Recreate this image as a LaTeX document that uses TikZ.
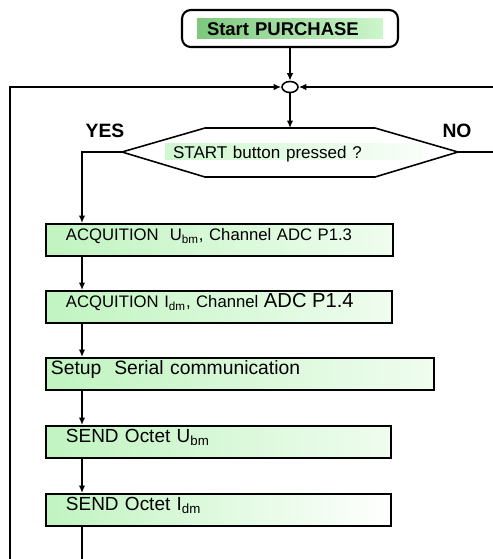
\documentclass[tikz,border=0pt]{standalone}
\usepackage{fontspec}
\setmainfont{Liberation Sans}
\usetikzlibrary{shapes.geometric,arrows.meta}

\newcommand{\fsz}[1]{\fontsize{#1}{#1}\selectfont}
\definecolor{boxgreen}{RGB}{192,244,192}
\definecolor{startgreen}{RGB}{125,200,125}

\tikzset{
  flow/.style={line width=0.9pt},
  box/.style={draw, line width=1.1pt, anchor=north west, align=left,
    minimum height=0.64cm, inner ysep=0pt, inner xsep=0.4cm,
    text height=0.25cm, text depth=0.24cm,
    left color=boxgreen, right color=boxgreen!25!white},
  starttext/.style={left color=startgreen, right color=boxgreen!80!white,
    text width=3.32cm, inner xsep=0.2cm, inner ysep=0pt, align=left,
    text height=0.335cm, text depth=0.065cm, font=\fsz{10.5}\bfseries},
  asktext/.style={left color=boxgreen!75!white, right color=boxgreen!10!white,
    text width=4.84cm, inner xsep=0.16cm, inner ysep=0pt, align=left,
    text height=0.3cm, text depth=0.02cm, font=\fsz{9.7}},
  answer/.style={font=\fsz{11}\bfseries},
}

\begin{document}
\begin{tikzpicture}[x=0.02cm, y=-0.02cm, >={Latex[length=1.5mm,width=1.3mm]}]
\useasboundingbox (0,0) rectangle (493,559);

% start
\node[draw, rounded corners=5pt, line width=1.2pt, minimum width=4.32cm, minimum height=0.74cm] (start) at (290,28.5) {};
\node[starttext] (starttxt) at (start) {Start PURCHASE};

\node[draw, ellipse, flow, minimum width=0.32cm, minimum height=0.22cm, inner sep=0pt] (merge) at (290,87) {};

% decision
\coordinate (dl) at (122,152);
\coordinate (dr) at (458,152);
\coordinate (dtop) at (290,128);
\draw[flow] (dl) -- (205,128) -- (375,128) -- (dr) -- (375,177) -- (205,177) -- cycle;
\node[asktext] (ask) at (294,151) {START button pressed ?};
\node[answer] (yeslbl) at (105,131) {YES};
\node[answer] (nolbl) at (457,131) {NO};

% process boxes
\node[box, text width=6.14cm, font=\fsz{9.5}] (b1) at (45,223) {ACQUITION~~U\textsubscript{bm}, Channel ADC P1.3};
\node[box, text width=6.12cm, font=\fsz{9.5}] (b2) at (45,290) {ACQUITION I\textsubscript{dm}, Channel {\fsz{11.5}ADC P1.4}};
\node[box, text width=7.56cm, inner xsep=0.1cm, font=\fsz{11}] (b3) at (45,357) {Setup~~Serial communication};
\node[box, text width=6.1cm, font=\fsz{10.8}] (b4) at (45,425) {SEND Octet U\textsubscript{bm}};
\node[box, text width=6.1cm, font=\fsz{10.8}, right color=white] (b5) at (45,493) {SEND Octet I\textsubscript{dm}};

% connectors
\coordinate (yes) at (82,152);
\coordinate (lbot) at (10,559);
\coordinate (rtop) at (493,87);
\coordinate (nend) at (493,152);
\coordinate (bot) at (82,559);

\draw[flow,->] (start) -- (merge);
\draw[flow,->] (merge) -- (dtop);
\draw[flow,->] (lbot) |- (merge);
\draw[flow,->] (rtop) -- (merge);
\draw[flow] (dr) -- (nend);
\draw[flow,->] (dl) -- (yes) -- (yes |- b1.north);
\foreach \a/\b in {b1/b2,b2/b3,b3/b4,b4/b5}
  \draw[flow,->] (\a.south -| yes) -- (\b.north -| yes);
\draw[flow] (b5.south -| yes) -- (bot);

\end{tikzpicture}
\end{document}
